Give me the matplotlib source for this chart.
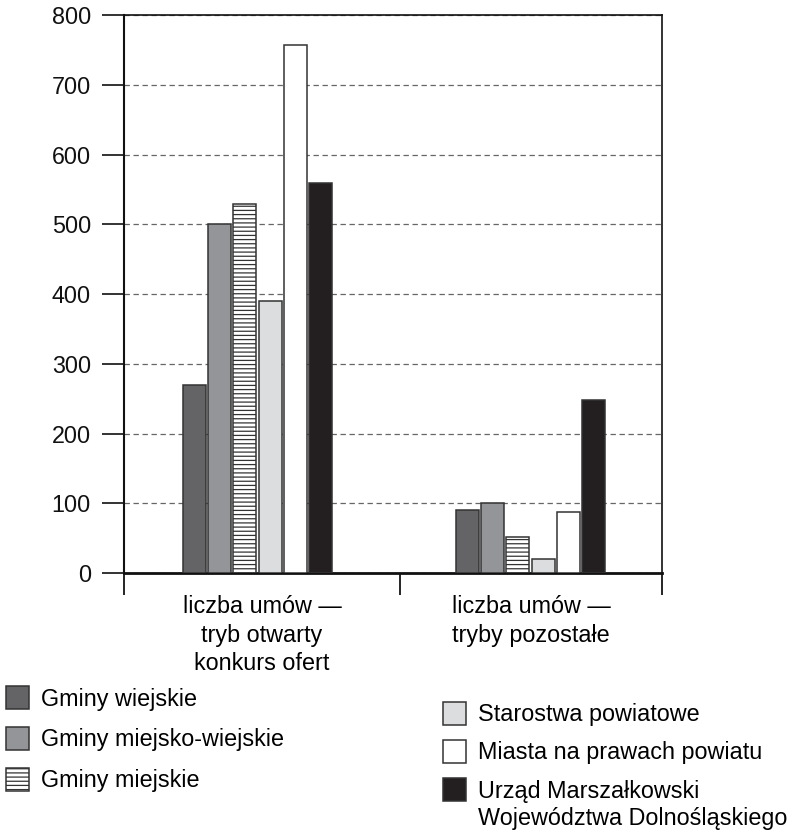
import matplotlib.pyplot as plt
from matplotlib.text import Annotation
import numpy as np

plt.rcParams['font.family'] = ['Liberation Sans', 'DejaVu Sans']
plt.rcParams['hatch.linewidth'] = 0.9

categories = ["liczba umów —\ntryb otwarty\nkonkurs ofert",
              "liczba umów —\ntryby pozostałe"]
series = ["Gminy wiejskie", "Gminy miejsko-wiejskie", "Gminy miejskie",
          "Starostwa powiatowe", "Miasta na prawach powiatu",
          "Urząd Marszałkowski", "Województwa Dolnośląskiego"]

gminy_wiejskie = [270, 90]
gminy_miejsko_wiejskie = [500, 100]
gminy_miejskie = [530, 52]
starostwa_powiatowe = [390, 20]
miasta_npp = [758, 88]
urzad_marszalkowski = [560, 248]
yticks = [0, 100, 200, 300, 400, 500, 600, 700, 800]

values = [gminy_wiejskie, gminy_miejsko_wiejskie, gminy_miejskie,
          starostwa_powiatowe, miasta_npp, urzad_marszalkowski]
fills = ['#646466', '#949598', 'white', '#dcdddf', 'white', '#231f20']
hatches = [None, None, '----', None, None, None]

fig = plt.figure(figsize=(7.99, 8.32), dpi=100)
ax = fig.add_axes([0.1552, 0.3113, 0.6733, 0.6703])

x = np.arange(len(categories))
step = 0.0927
width = 0.084
bars = []
for i, (vals, fc, h) in enumerate(zip(values, fills, hatches)):
    b = ax.bar(x + (i - 2.5) * step, vals, width, color=fc, edgecolor='#333333',
               linewidth=1.1, hatch=h, zorder=3)
    bars.append(b)

ax.set_xlim(-0.489, 1.482)
ax.set_ylim(0, 800)
ax.set_yticks(yticks)
ax.yaxis.grid(True, linestyle=(0, (4.3, 2.9)), color='#666666', linewidth=0.9)
ax.set_axisbelow(True)

for side, lw in [('left', 1.5), ('bottom', 2.0), ('top', 1.2), ('right', 1.2)]:
    ax.spines[side].set_linewidth(lw)
    ax.spines[side].set_color('#111111')

ax.tick_params(axis='y', direction='out', length=15.8, width=1.2, pad=8,
               labelsize=16.8, colors='#111111')

# separators under the axis, category names between them
seps = [-0.489, 0.522, 1.482]
ax.set_xticks(seps, ['', '', ''])
ax.set_xticks([(seps[0] + seps[1]) / 2, (seps[1] + seps[2]) / 2], categories, minor=True)
ax.tick_params(axis='x', which='major', direction='out', length=15.8, width=1.2)
ax.tick_params(axis='x', which='minor', length=0, pad=16, labelsize=16.8)
for lbl in ax.get_xticklabels(minor=True):
    lbl.set_linespacing(1.3)

leg_kw = dict(loc='upper left', frameon=False, fontsize=16.8, handlelength=0.95,
              handleheight=1.1, handletextpad=0.55, borderpad=0, borderaxespad=0)
fig.legend(bars[:3], series[:3], bbox_to_anchor=(0.008, 0.175),
           labelspacing=0.72, **leg_kw)
leg2 = fig.legend(bars[3:], series[3:6], bbox_to_anchor=(0.555, 0.156),
                  labelspacing=0.6, **leg_kw)
# second line of the last label, hanging under the first (drawn after the legend)
line2 = Annotation(series[6], xy=(0, 0), xycoords=leg2.get_texts()[2],
                   xytext=(0, -3.5), textcoords='offset points',
                   fontsize=16.8, va='top', ha='left', zorder=6)
fig.add_artist(line2)

fig.savefig('out.png', dpi=100)
